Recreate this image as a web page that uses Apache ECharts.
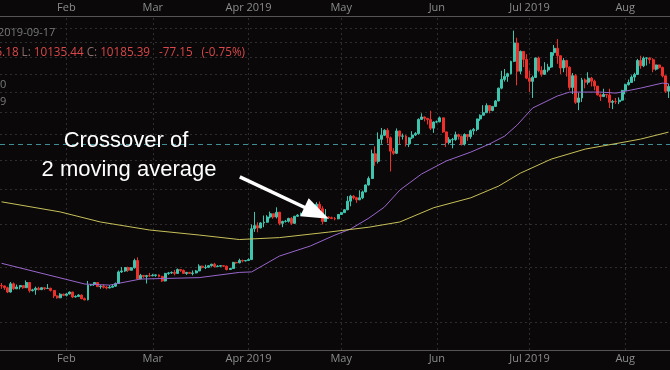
<!DOCTYPE html>
<html><head><meta charset="utf-8">
<script src="https://cdn.jsdelivr.net/npm/echarts@6/dist/echarts.min.js"></script>
<style>html,body{margin:0;padding:0;background:#0a0808;}#c{width:670px;height:370px;}</style>
</head><body><div id="c"></div>
<script>
// ---- data ----
const startDate = '2019-01-11';
const dayCount = 217;
// daily candles: [open, close, low, high]
const candles = [
[3630,3625,3570,3680],[3625,3590,3550,3630],[3590,3510,3490,3610],[3510,3665,3500,3700],[3665,3570,3550,3690],
[3570,3605,3565,3650],[3605,3630,3560,3640],[3630,3590,3570,3635],[3590,3690,3585,3730],[3690,3535,3500,3700],
[3535,3550,3520,3570],[3550,3580,3460,3610],[3580,3555,3540,3610],[3555,3590,3545,3600],[3590,3575,3545,3590],
[3575,3580,3570,3660],[3580,3540,3520,3590],[3540,3440,3400,3545],[3440,3405,3390,3450],[3405,3470,3400,3490],
[3470,3450,3435,3480],
[3450,3475,3430,3495],[3475,3510,3465,3520],[3510,3420,3400,3515],[3420,3430,3410,3450],[3430,3455,3425,3470],
[3455,3390,3380,3465],[3390,3370,3360,3410],[3370,3640,3360,3720],[3640,3650,3620,3660],[3650,3690,3625,3695],
[3690,3610,3605,3690],[3610,3620,3570,3640],[3620,3600,3575,3655],[3600,3585,3560,3620],[3585,3600,3580,3640],
[3600,3620,3595,3650],[3620,3670,3610,3690],[3670,3900,3660,3930],[3900,3920,3880,4000],[3920,3990,3900,4000],
[3990,3935,3900,4010],[3935,3985,3930,4000],[3985,4140,3970,4180],[4140,3760,3740,4210],[3760,3830,3755,3860],
[3830,3810,3780,3835],[3810,3825,3670,3840],[3825,3820,3800,3880],
[3820,3830,3815,3860],[3830,3840,3800,3850],[3840,3810,3790,3850],[3810,3720,3700,3820],[3720,3870,3710,3880],
[3870,3880,3840,3900],[3880,3890,3860,3910],[3890,3870,3830,3940],[3870,3950,3860,3970],[3950,3930,3900,3950],
[3930,3870,3860,3950],[3870,3890,3840,3900],[3890,3870,3860,3900],[3870,3880,3830,3930],[3880,3920,3870,3940],
[3920,4020,3915,4060],[4020,3990,3970,4030],[3990,3995,3960,4050],[3995,4030,3985,4040],[4030,4060,4010,4070],
[4060,4010,3990,4090],[4010,4020,4000,4040],[4020,4030,4010,4040],[4030,4020,4000,4035],[4020,3950,3930,4030],
[3950,3970,3940,3980],[3970,4100,3965,4110],[4100,4090,4070,4110],[4090,4140,4080,4180],[4140,4130,4100,4160],
[4130,4140,4120,4150],
[4140,4160,4130,4190],[4160,4890,4155,5000],[4890,4970,4810,5340],[4970,4910,4800,5060],[4910,5040,4900,5060],
[5040,5060,4930,5240],[5060,5200,5050,5250],[5200,5290,5160,5350],[5290,5200,5150,5290],[5200,5330,5160,5470],
[5330,5030,4980,5340],[5030,5080,4930,5100],[5080,5085,5050,5120],[5085,5160,5050,5180],[5160,5030,4990,5200],
[5030,5220,5020,5230],[5220,5250,5200,5280],[5250,5290,5240,5320],[5290,5280,5230,5330],[5280,5330,5270,5350],
[5330,5290,5240,5340],[5290,5390,5270,5480],[5390,5560,5380,5620],[5560,5430,5400,5640],[5430,5080,5000,5500],
[5080,5200,5070,5420],[5200,5180,5150,5220],[5180,5160,5140,5210],[5160,5150,5110,5200],[5150,5270,5140,5280],
[5270,5320,5260,5340],[5320,5400,5310,5420],[5400,5650,5390,5800],[5650,5800,5500,5840],[5800,5750,5700,5830],
[5750,5690,5600,5780],[5690,5750,5680,5980],[5750,5930,5710,5970],[5930,6150,5920,6170],[6150,6360,6130,6430],
[6360,7240,6350,7400],[7240,6960,6800,7530],[6960,7810,6880,8100],[7810,7980,7630,8290],[7980,8190,7950,8240],
[8190,7870,7650,8280],[7870,7340,6600,7930],[7340,7260,7200,7460],[7260,8160,7230,8270],[8160,7940,7600,8170],
[7940,7950,7800,8050],[7950,7630,7520,8000],[7630,7870,7500,7900],[7870,7990,7820,8150],[7990,8050,7950,8110],
[8050,8670,8000,8720],[8670,8780,8650,8950],[8780,8720,8580,8800],[8720,8660,8440,8730],[8660,8280,8200,9070],
[8280,8550,8080,8580],
[8550,8560,8500,8620],[8560,8740,8540,8800],[8740,8120,8080,8740],[8120,7680,7500,8130],[7680,7790,7600,7900],
[7790,7800,7450,7870],[7800,8000,7750,8130],[8000,7930,7800,8040],[7930,7620,7560,7970],[7620,8010,7560,8060],
[8010,7920,7750,8010],[7920,8170,7830,8220],[8170,8230,8000,8290],[8230,8690,8150,8700],[8690,8860,8600,8900],
[8860,8980,8860,9340],[8980,9320,8960,9430],[9320,9080,8950,9340],[9080,9280,9050,9300],[9280,9550,9250,9600],
[9550,10210,9530,10240],[10210,10690,10150,11180],[10690,10860,10570,11290],[10860,11010,10560,11070],[11010,11750,10980,11790],
[11750,12930,11700,13800],[12930,11160,10360,13300],[11160,12380,11000,12430],[12380,11870,11400,12400],[11870,10760,10700,12200],
[10760,10580,10000,11200],[10580,10800,9700,10900],[10800,11960,10790,11980],[11960,11200,11100,12050],[11200,10980,10850,11450],
[10980,11230,10950,11700],[11230,11400,11100,11600],[11400,12300,11350,12340],[12300,12580,12100,12800],[12580,12100,11600,13200],
[12100,11350,11000,12100],[11350,11800,11100,11950],[11800,11390,10850,11850],[11390,10250,10100,11450],[10250,10900,9900,11050],
[10900,9480,9400,11000],[9480,9700,9100,9980],[9700,10660,9500,10780],[10660,10530,10200,10750],[10530,10760,10400,11100],
[10760,10590,10300,10830],[10590,10320,10100,10670],[10320,9860,9820,10320],[9860,9770,9550,9930],[9770,9880,9750,10180],
[9880,9850,9700,9900],[9850,9480,9200,10180],[9480,9530,9150,9600],[9530,9510,9400,9700],[9510,9590,9390,9730],
[9590,10090,9560,10120],
[10090,10400,9890,10450],[10400,10520,10350,10680],[10520,10820,10500,10920],[10820,10970,10590,11070],[10970,11800,10960,11900],
[11800,11480,11300,12100],[11480,11950,11400,12050],[11950,11960,11500,12000],[11960,11850,11600,12000],[11850,11280,11100,11950],
[11280,11530,11200,11550],[11530,11380,11280,11550],[11380,10890,10800,11430],[10890,10050,9950,10900],[10050,10300,9700,10450]
];
// moving averages (sample points)
const ma50 = [
['2019-01-11',4080],['2019-02-07',3660],['2019-02-15',3640],['2019-02-25',3757],['2019-03-16',3785],
['2019-03-29',3890],['2019-04-02',3900],['2019-04-11',4238],['2019-04-21',4467],['2019-04-29',4731],
['2019-05-04',4882],['2019-05-10',5171],['2019-05-15',5478],['2019-05-20',5988],['2019-05-27',6511],
['2019-06-04',6970],['2019-06-12',7306],['2019-06-18',7620],['2019-06-23',7946],['2019-06-27',8418],
['2019-07-02',9202],['2019-07-10',9799],['2019-07-14',10003],['2019-07-24',10003],['2019-07-29',9950],
['2019-08-06',10214],['2019-08-13',10485],['2019-08-15',10450]
];
const ma200 = [
['2019-01-11',5630],['2019-01-30',5340],['2019-02-12',5066],['2019-02-28',4857],['2019-03-16',4731],
['2019-03-29',4621],['2019-04-11',4668],['2019-04-27',4805],['2019-05-10',4930],['2019-05-20',5066],
['2019-05-31',5460],['2019-06-12',5750],['2019-06-21',6114],['2019-06-28',6540],['2019-07-08',7040],
['2019-07-19',7420],['2019-07-30',7660],['2019-08-06',7820],['2019-08-15',8110]
];
const monthTicks = ['2019-02-01','2019-03-01','2019-04-01','2019-05-01','2019-06-01','2019-07-01','2019-08-01'];
const monthLabels = ['Feb','Mar','Apr 2019','May','Jun','Jul 2019','Aug'];
const gridPrices = [3000,4000,5000,6000,7000,8000,9000,10000,11000,12000,13000,14000];
const refPrice = 7620;
const priceMin = 2591, priceMax = 14900;
const crossPoint = ['2019-04-27', 5150];

// ---- build ----
const dates = [];
{
  const d0 = new Date(startDate + 'T00:00:00Z');
  for (let i = 0; i < dayCount; i++) {
    const d = new Date(d0.getTime() + i * 86400000);
    dates.push(d.toISOString().slice(0, 10));
  }
}
const labelMap = {};
monthTicks.forEach((d, i) => labelMap[d] = monthLabels[i]);

const UP = '#3fc4ae', DOWN = '#ee2f2a';
const axisCommon = {
  type: 'category', data: dates, boundaryGap: true,
  axisLine: { show: true, lineStyle: { color: '#555', width: 1 } },
  axisTick: { show: false },
  axisLabel: {
    interval: (i, v) => labelMap[v] !== undefined,
    formatter: v => labelMap[v] || '',
    color: '#8c8c8c', fontSize: 11, margin: 3, fontFamily: 'Open Sans'
  },
  splitLine: { show: false }
};

const chart = echarts.init(document.getElementById('c'), null, { renderer: 'canvas' });
chart.setOption({
  animation: false,
  backgroundColor: '#0a0808',
  grid: { left: 0, right: 0, top: 16, bottom: 20, containLabel: false },
  xAxis: [
    Object.assign({}, axisCommon, { position: 'bottom' }),
    Object.assign({}, axisCommon, { position: 'top' })
  ],
  yAxis: {
    type: 'log', logBase: 10, min: priceMin, max: priceMax,
    axisLine: { show: false }, axisLabel: { show: false }, axisTick: { show: false },
    splitLine: { show: false }
  },
  series: [
    {
      type: 'line', data: [], z: 1, silent: true,
      markLine: {
        silent: true, symbol: 'none', animation: false,
        label: { show: false },
        lineStyle: { color: '#2e2e2e', type: [2, 3], width: 1 },
        data: gridPrices.map(p => ({ yAxis: p })).concat(monthTicks.map(d => ({ xAxis: d })))
      }
    },
    {
      type: 'candlestick', data: candles, z: 5, barWidth: '80%',
      itemStyle: { color: UP, color0: DOWN, borderColor: UP, borderColor0: DOWN, borderWidth: 1 }
    },
    {
      type: 'line', data: ma50, z: 6, showSymbol: false, symbol: 'none', silent: true,
      lineStyle: { color: '#9866cc', width: 1 }
    },
    {
      type: 'line', data: ma200, z: 6, showSymbol: false, symbol: 'none', silent: true,
      lineStyle: { color: '#c6c05a', width: 1 },
      markLine: {
        silent: true, symbol: 'none', animation: false, label: { show: false },
        lineStyle: { color: '#3f8e94', type: [5, 4], width: 1 },
        data: [{ yAxis: refPrice }]
      }
    }
  ]
});

// annotation arrow anchored on the crossover area
const tip = chart.convertToPixel({ xAxisIndex: 0, yAxisIndex: 0 }, [dates.indexOf(crossPoint[0]), crossPoint[1]]);
const dx = 89, dy = 42, len = Math.hypot(dx, dy);
const ux = dx / len, uy = dy / len, nx = -uy, ny = ux;
const headLen = 27, headHalf = 10;
const bx = tip[0] - ux * headLen, by = tip[1] - uy * headLen;
const sx = tip[0] - dx, sy = tip[1] - dy;
const hdrFont = '11.7px "Open Sans", sans-serif';

chart.setOption({
  graphic: [
    { type: 'line', shape: { x1: sx, y1: sy, x2: bx + ux * 4, y2: by + uy * 4 },
      style: { stroke: '#ffffff', lineWidth: 3.5 }, z: 100 },
    { type: 'polygon', shape: { points: [[tip[0], tip[1]], [bx + nx * headHalf, by + ny * headHalf], [bx - nx * headHalf, by - ny * headHalf]] },
      style: { fill: '#ffffff' }, z: 100 },
    { type: 'text', x: 126, y: 141, z: 100,
      style: { text: 'Crossover of', fill: '#ffffff', font: '22px "Liberation Sans", Arial, sans-serif', align: 'center', verticalAlign: 'middle' } },
    { type: 'text', x: 129, y: 170, z: 100,
      style: { text: '2 moving average', fill: '#ffffff', font: '22px "Liberation Sans", Arial, sans-serif', align: 'center', verticalAlign: 'middle' } },
    { type: 'text', x: -2, y: 33, z: 100,
      style: { text: '2019-09-17', fill: '#7a7a7a', font: '11px "Open Sans", sans-serif', align: 'left', verticalAlign: 'middle' } },
    { type: 'text', x: 245, y: 53, z: 100,
      style: {
        text: '{l|O:} {v|10262.54} {l|H:} {v|10305.18} {l|L:} {v|10135.44} {l|C:} {v|10185.39}{s| }{v|-77.15}{s| }{v|(-0.75%)}',
        align: 'right', verticalAlign: 'middle', font: hdrFont,
        rich: {
          l: { fill: '#8a6f70', font: hdrFont },
          v: { fill: '#d9484b', font: hdrFont },
          s: { width: 9, font: hdrFont }
        }
      } },
    { type: 'text', x: 0, y: 85, z: 100,
      style: { text: '0', fill: '#7a7a7a', font: '11px "Open Sans", sans-serif', align: 'left', verticalAlign: 'middle' } },
    { type: 'text', x: 0, y: 102, z: 100,
      style: { text: '9', fill: '#7a7a7a', font: '11px "Open Sans", sans-serif', align: 'left', verticalAlign: 'middle' } }
  ]
});
</script>
</body></html>
